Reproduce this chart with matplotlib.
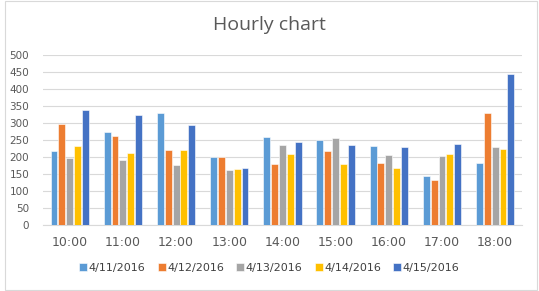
import numpy as np
import matplotlib
matplotlib.use("Agg")
import matplotlib.pyplot as plt
from matplotlib.patches import Rectangle

# data
hours = ["10:00", "11:00", "12:00", "13:00", "14:00", "15:00", "16:00", "17:00", "18:00"]
dates = ["4/11/2016", "4/12/2016", "4/13/2016", "4/14/2016", "4/15/2016"]
d0411 = [218, 272, 330, 199, 259, 250, 231, 143, 181]
d0412 = [297, 262, 220, 201, 178, 217, 181, 132, 328]
d0413 = [196, 191, 176, 163, 234, 255, 206, 204, 229]
d0414 = [231, 211, 220, 165, 209, 178, 168, 209, 222]
d0415 = [338, 322, 295, 168, 244, 234, 229, 239, 445]
series = [d0411, d0412, d0413, d0414, d0415]
colors = ["#5B9BD5", "#ED7D31", "#A5A5A5", "#FFC000", "#4472C4"]

fig = plt.figure(figsize=(5.39, 2.91), dpi=100)
ax = fig.add_axes([0.080, 0.227, 0.888, 0.584])

x = np.arange(len(hours))
step = 0.148
width = 0.13
for i, vals in enumerate(series):
    ax.bar(x + (i - 2) * step, vals, width=width, color=colors[i],
           edgecolor="white", linewidth=0.4, label=dates[i], zorder=3)

ax.set_ylim(0, 500)
ax.set_xlim(-0.5, len(hours) - 0.5)
ax.set_yticks(range(0, 501, 50))
ax.set_xticks(x)
ax.set_xticklabels(hours)
ax.grid(axis="y", color="#D9D9D9", linewidth=0.8, zorder=0)
for s in ["top", "right", "left"]:
    ax.spines[s].set_visible(False)
ax.spines["bottom"].set_color("#D9D9D9")
ax.tick_params(axis="both", length=0, colors="#595959")
ax.tick_params(axis="y", labelsize=7.5, pad=10)
ax.tick_params(axis="x", labelsize=9, pad=8)
for lbl in ax.get_xticklabels() + ax.get_yticklabels():
    lbl.set_family("DejaVu Sans")

fig.text(0.5, 0.915, "Hourly chart", ha="center", va="center",
         fontsize=14, color="#595959", family="Open Sans")

leg = fig.legend(loc="center", bbox_to_anchor=(0.5, 0.08), ncol=5, frameon=False,
                 fontsize=8, handlelength=0.7, handleheight=0.7, handletextpad=0.15,
                 columnspacing=1.1, labelcolor="#404040")

fig.patches.append(Rectangle((0.009, 0.005), 0.988, 0.99, transform=fig.transFigure,
                             fill=False, edgecolor="#D9D9D9", linewidth=0.8))

fig.savefig("out.png", dpi=100)
